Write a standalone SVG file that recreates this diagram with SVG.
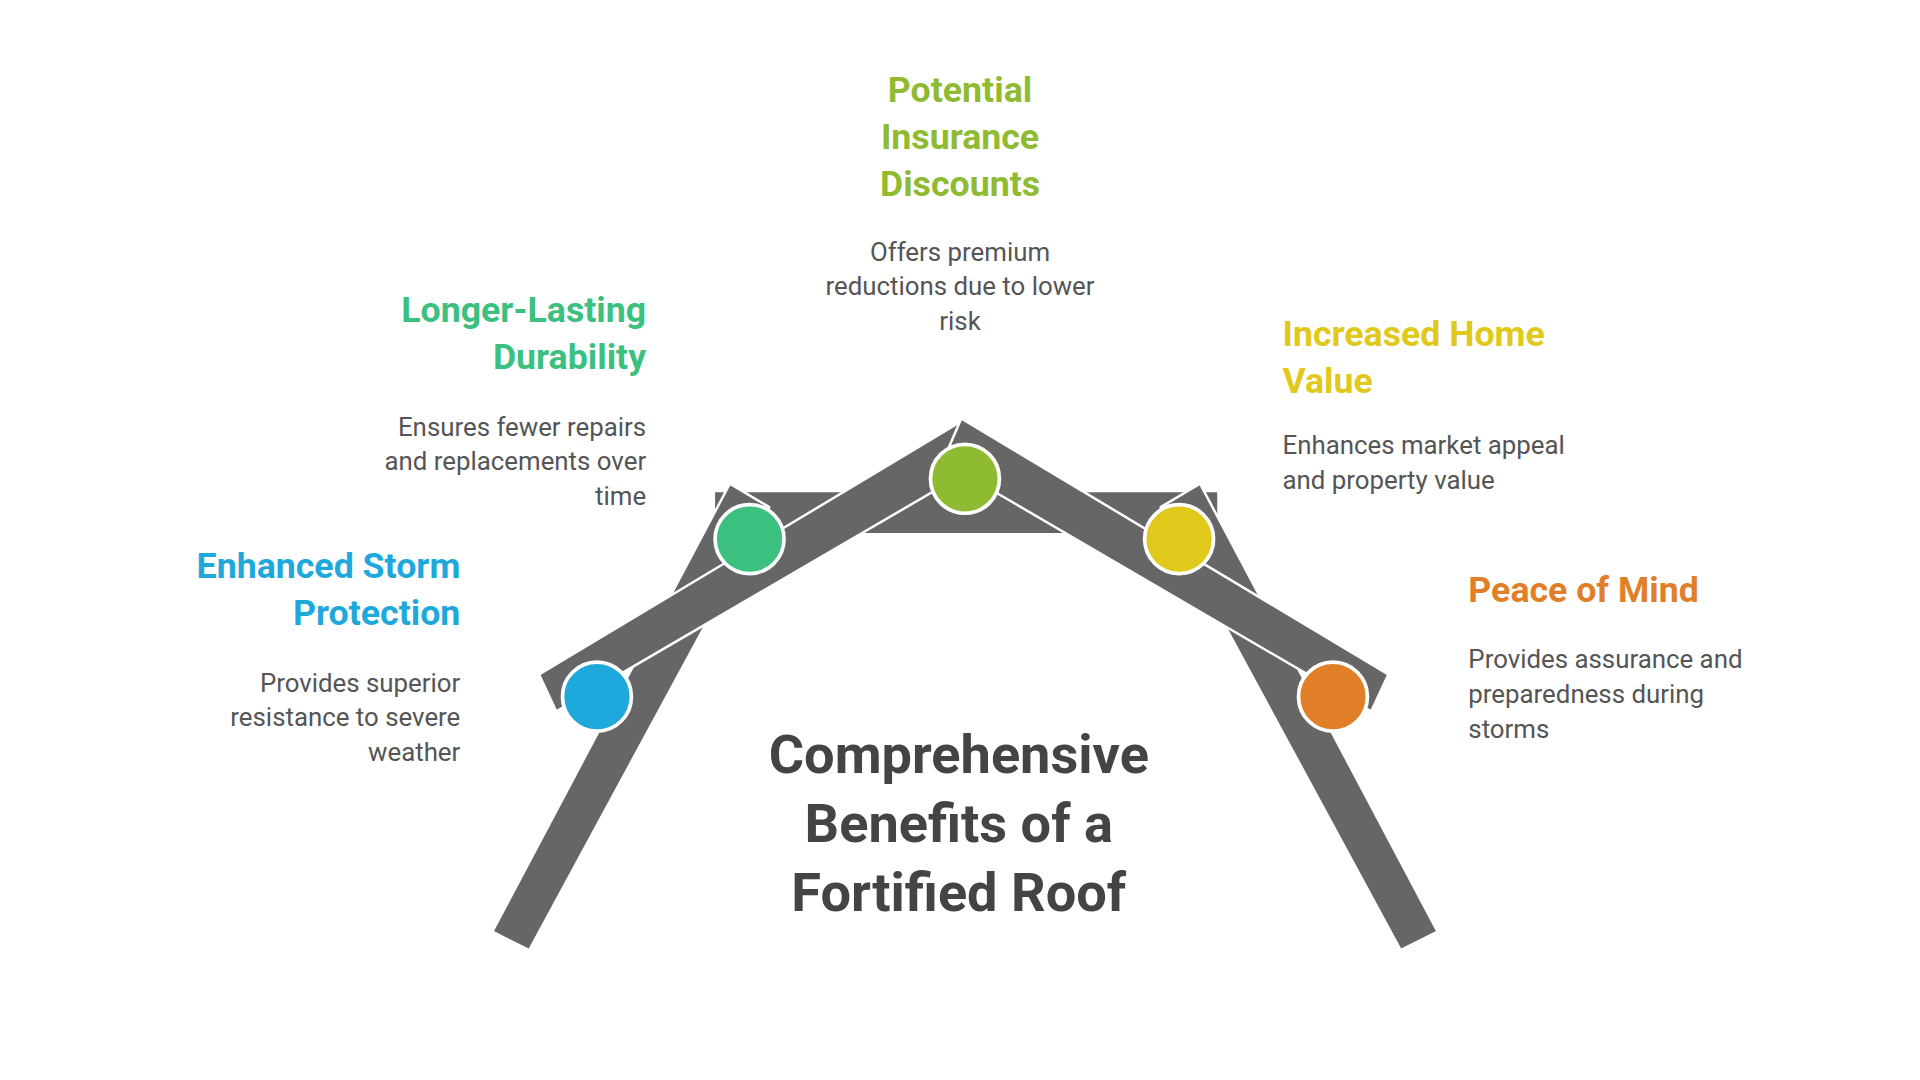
<svg xmlns="http://www.w3.org/2000/svg" width="1920" height="1080" viewBox="0 0 1920 1080">
<style>
.bar{fill:#666;stroke:#fff;stroke-width:2;stroke-linejoin:round}
.dot{stroke:#fff;stroke-width:3}
.h{font-family:Roboto,"Liberation Sans",sans-serif;font-weight:bold;font-size:29px}
.d{font-family:Roboto,"Liberation Sans",sans-serif;font-size:21px;fill:#555}
.t{font-family:Roboto,"Liberation Sans",sans-serif;font-weight:bold;font-size:44px;fill:#444;text-anchor:middle}
.r{text-anchor:end}.m{text-anchor:middle}
</style>
<rect width="1920" height="1080" fill="#fff"/>
<g transform="scale(1.2308)">
<g id="roof">
<rect class="bar" x="580" y="399" width="410" height="35"/>
<polygon class="bar" points="400,757 430,772 625,412 593,393"/>
<polygon class="bar" points="1168,757 1138,772 943,412 975,393"/>
<polygon class="bar" points="438,548 452,578 800,375 785,340"/>
<polygon class="bar" points="1128,548 1114,578 766,375 781,340"/>
</g>
<g id="connectors"></g>
<g id="storm">
<circle class="dot" cx="485" cy="566" r="28" fill="#1fa8dc"/>
<text class="h r" fill="#1fa8dc"><tspan x="374" y="470">Enhanced Storm</tspan><tspan x="374" y="508">Protection</tspan></text>
<text class="d r"><tspan x="374" y="562">Provides superior</tspan><tspan x="374" y="590">resistance to severe</tspan><tspan x="374" y="618">weather</tspan></text>
</g>
<g id="durability">
<circle class="dot" cx="609" cy="438" r="28" fill="#3cc07f"/>
<text class="h r" fill="#3cc07f"><tspan x="525" y="262">Longer-Lasting</tspan><tspan x="525" y="300">Durability</tspan></text>
<text class="d r"><tspan x="525" y="354">Ensures fewer repairs</tspan><tspan x="525" y="382">and replacements over</tspan><tspan x="525" y="410">time</tspan></text>
</g>
<g id="insurance">
<circle class="dot" cx="784" cy="389" r="28" fill="#8fbb32"/>
<text class="h m" fill="#8fbb32"><tspan x="780" y="83">Potential</tspan><tspan x="780" y="121">Insurance</tspan><tspan x="780" y="159">Discounts</tspan></text>
<text class="d m"><tspan x="780" y="212">Offers premium</tspan><tspan x="780" y="240">reductions due to lower</tspan><tspan x="780" y="268">risk</tspan></text>
</g>
<g id="value">
<circle class="dot" cx="958" cy="438" r="28" fill="#e0c91a"/>
<text class="h" fill="#e0c91a"><tspan x="1042" y="281">Increased Home</tspan><tspan x="1042" y="319">Value</tspan></text>
<text class="d"><tspan x="1042" y="369">Enhances market appeal</tspan><tspan x="1042" y="397">and property value</tspan></text>
</g>
<g id="peace">
<circle class="dot" cx="1083" cy="566" r="28" fill="#e07f28"/>
<text class="h" fill="#e07f28"><tspan x="1193" y="489">Peace of Mind</tspan></text>
<text class="d"><tspan x="1193" y="543">Provides assurance and</tspan><tspan x="1193" y="571">preparedness during</tspan><tspan x="1193" y="600">storms</tspan></text>
</g>
<g id="title">
<text class="t"><tspan x="779" y="628">Comprehensive</tspan><tspan x="779" y="684">Benefits of a</tspan><tspan x="779" y="740">Fortified Roof</tspan></text>
</g>
</g>
</svg>
